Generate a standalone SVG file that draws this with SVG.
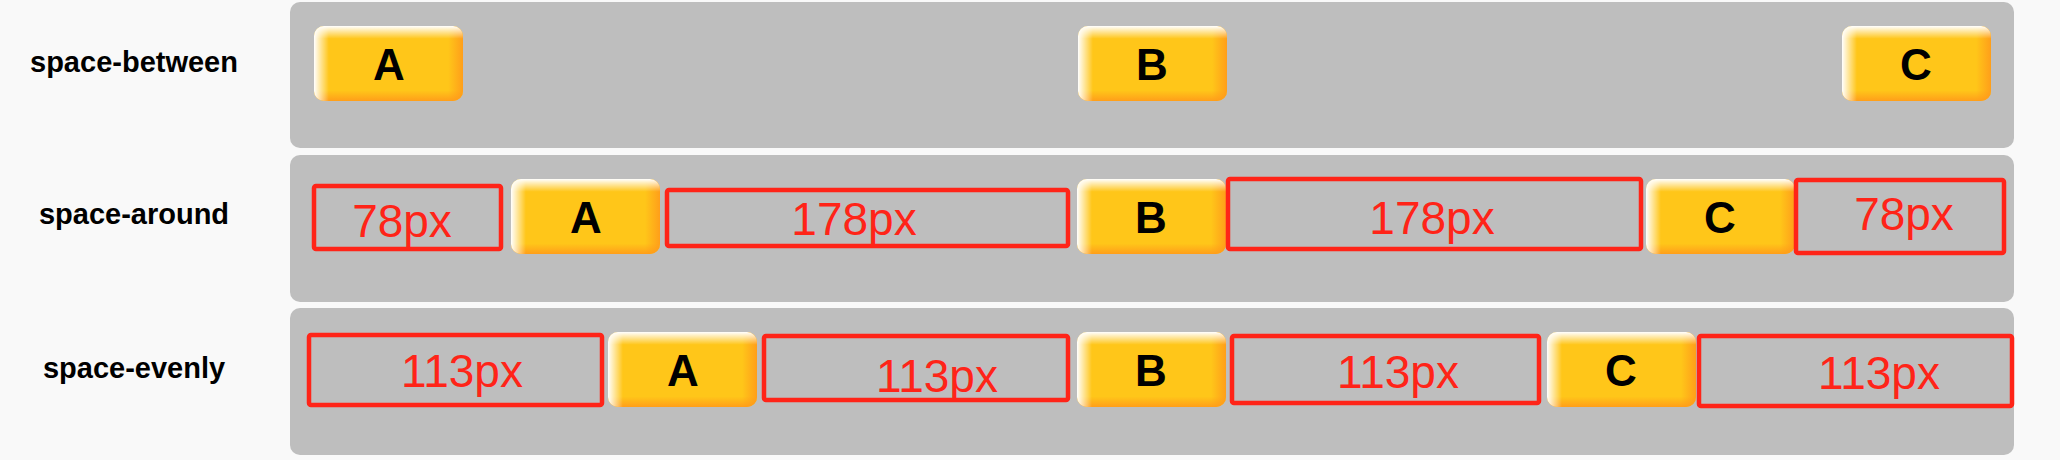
<svg xmlns="http://www.w3.org/2000/svg" xmlns:xlink="http://www.w3.org/1999/xlink" width="2060" height="460" viewBox="0 0 2060 460">
<style>
.panel{fill:#bebebe}
.lbl{font-family:"Liberation Sans",Arial,sans-serif;font-weight:bold;font-size:29px;fill:#000;text-anchor:middle}
.let{font-family:"Liberation Sans",Arial,sans-serif;font-weight:bold;font-size:44px;fill:#000;text-anchor:middle}
.gap{fill:none;stroke:#ff2418;stroke-width:4.5}
.gt{font-family:"Liberation Sans",Arial,sans-serif;font-size:46px;fill:#ff2418;text-anchor:middle}
</style>
<defs>
<linearGradient id="gl" x1="0" y1="0" x2="1" y2="0">
<stop offset="0" stop-color="#fff" stop-opacity="1"/>
<stop offset="0.1" stop-color="#fff" stop-opacity="0"/>
</linearGradient>
<linearGradient id="gt" x1="0" y1="0" x2="0" y2="1">
<stop offset="0" stop-color="#fff" stop-opacity="1"/>
<stop offset="0.17" stop-color="#fff" stop-opacity="0"/>
</linearGradient>
<linearGradient id="gr" x1="0" y1="0" x2="1" y2="0">
<stop offset="0.9" stop-color="#ff9a1a" stop-opacity="0"/>
<stop offset="1" stop-color="#ff9a1a" stop-opacity="0.9"/>
</linearGradient>
<linearGradient id="gb" x1="0" y1="0" x2="0" y2="1">
<stop offset="0.86" stop-color="#ff9a1a" stop-opacity="0"/>
<stop offset="1" stop-color="#ff9a1a" stop-opacity="0.9"/>
</linearGradient>
<g id="btn">
<rect width="149" height="75" rx="10" fill="#ffc619"/>
<rect width="149" height="75" rx="10" fill="url(#gr)"/>
<rect width="149" height="75" rx="10" fill="url(#gb)"/>
<rect width="149" height="75" rx="10" fill="url(#gl)"/>
<rect width="149" height="75" rx="10" fill="url(#gt)"/>
</g>
</defs>
<rect width="2060" height="460" fill="#f9f9f9"/>
<g id="panels">
<rect class="panel" x="290" y="2" width="1724" height="146" rx="10"/>
<rect class="panel" x="290" y="155" width="1724" height="147" rx="10"/>
<rect class="panel" x="290" y="308" width="1724" height="147" rx="10"/>
</g>
<g id="labels">
<text class="lbl" x="134" y="72">space-between</text>
<text class="lbl" x="134" y="224">space-around</text>
<text class="lbl" x="134" y="378">space-evenly</text>
</g>
<g id="connectors"/>
<g id="row1-A"><use xlink:href="#btn" x="314" y="26"/><text class="let" x="389" y="80">A</text></g>
<g id="row1-B"><use xlink:href="#btn" x="1078" y="26"/><text class="let" x="1152" y="80">B</text></g>
<g id="row1-C"><use xlink:href="#btn" x="1842" y="26"/><text class="let" x="1916" y="80">C</text></g>

<g id="row2-gap1"><rect class="gap" x="314" y="186" width="187" height="63" rx="2"/><text class="gt" x="402" y="237">78px</text></g>
<g id="row2-A"><use xlink:href="#btn" x="511" y="179"/><text class="let" x="586" y="233">A</text></g>
<g id="row2-gap2"><rect class="gap" x="667" y="190" width="401" height="56" rx="2"/><text class="gt" x="854" y="235">178px</text></g>
<g id="row2-B"><use xlink:href="#btn" x="1077" y="179"/><text class="let" x="1151" y="233">B</text></g>
<g id="row2-gap3"><rect class="gap" x="1228" y="179" width="413" height="70" rx="2"/><text class="gt" x="1432" y="234">178px</text></g>
<g id="row2-C"><use xlink:href="#btn" x="1646" y="179"/><text class="let" x="1720" y="233">C</text></g>
<g id="row2-gap4"><rect class="gap" x="1796" y="180" width="208" height="73" rx="2"/><text class="gt" x="1904" y="230">78px</text></g>

<g id="row3-gap1"><rect class="gap" x="309" y="335" width="293" height="70" rx="2"/><text class="gt" x="462" y="387">113px</text></g>
<g id="row3-A"><use xlink:href="#btn" x="608" y="332"/><text class="let" x="683" y="386">A</text></g>
<g id="row3-gap2"><rect class="gap" x="764" y="336" width="304" height="64" rx="2"/><text class="gt" x="937" y="392">113px</text></g>
<g id="row3-B"><use xlink:href="#btn" x="1077" y="332"/><text class="let" x="1151" y="386">B</text></g>
<g id="row3-gap3"><rect class="gap" x="1232" y="336" width="307" height="67" rx="2"/><text class="gt" x="1398" y="388">113px</text></g>
<g id="row3-C"><use xlink:href="#btn" x="1547" y="332"/><text class="let" x="1621" y="386">C</text></g>
<g id="row3-gap4"><rect class="gap" x="1699" y="336" width="313" height="70" rx="2"/><text class="gt" x="1879" y="389">113px</text></g>
</svg>
